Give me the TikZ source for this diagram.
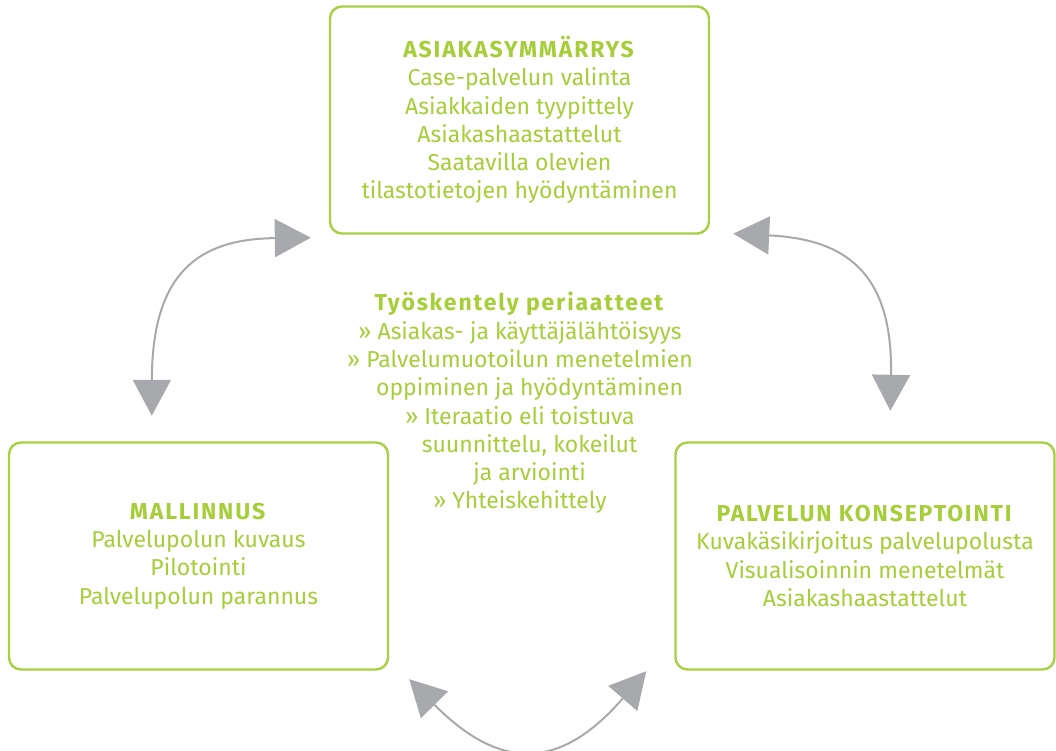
\documentclass[tikz,border=0pt]{standalone}
\usepackage{fontspec}
\setmainfont{Fira Sans}[BoldFeatures={LetterSpace=8}]
\usepackage{tikz}
\usetikzlibrary{arrows.meta}
\usepackage{xcolor}
\definecolor{leaf}{HTML}{A6CE39}
\definecolor{leafline}{HTML}{A9D045}
\definecolor{stone}{HTML}{A7A9AC}
\tikzset{
  every node/.style={font=\fontsize{23}{28.3}\selectfont,text=leaf},
  box/.style={draw=leafline,line width=2.4pt,rounded corners=12pt,fill=white,minimum width=379pt,minimum height=227pt,align=center,inner sep=0pt},
  arrow/.style={{Triangle[length=36pt,width=38pt]}-{Triangle[length=36pt,width=38pt]},line width=2pt,draw=stone},
  principles/.style={align=center,inner sep=0pt},
}
\newcommand{\cont}{\phantom{» }}

\begin{document}
\begin{tikzpicture}[x=1pt,y=1pt]
\useasboundingbox (0,0) rectangle (1056,751);

% phase boxes
\node[box] (insight) at (519.5,631)
{\textbf{ASIAKASYMMÄRRYS}\\Case-palvelun valinta\\Asiakkaiden tyypittely\\Asiakashaastattelut\\Saatavilla olevien\\tilastotietojen hyödyntäminen};

\node[box] (model) at (198.5,195)
{\textbf{MALLINNUS}\\Palvelupolun kuvaus\\Pilotointi\\Palvelupolun parannus};

\node[box] (concept) at (865,195)
{\textbf{PALVELUN KONSEPTOINTI}\\Kuvakäsikirjoitus palvelupolusta\\Visualisoinnin menetelmät\\Asiakashaastattelut};

% working principles
\node[principles] (ways) at (520,348)
{\textbf{Työskentely periaatteet}\\
» Asiakas- ja käyttäjälähtöisyys\\
» Palvelumuotoilun menetelmien\\
\cont oppiminen ja hyödyntäminen\\
» Iteraatio eli toistuva\\
\cont suunnittelu, kokeilut\\
\cont ja arviointi\\
» Yhteiskehittely};

% arrow ends
\coordinate (insightL) at ([shift={(-18,-3)}]insight.south west);
\coordinate (insightR) at ([shift={(23,1)}]insight.south east);
\coordinate (modelT) at ([shift={(144,25.5)}]model.north west);
\coordinate (modelB) at ([shift={(20,-8.5)}]model.south east);
\coordinate (conceptT) at ([shift={(216,30.5)}]concept.north west);
\coordinate (conceptB) at ([shift={(-28,-0.5)}]concept.south west);

% cycle arrows
\draw[arrow] (modelT) .. controls (152,480) and (200,512) .. (insightL);
\draw[arrow] (insightR) .. controls (844,512) and (893,480) .. (conceptT);
\draw[arrow] (modelB) .. controls (500,-20) and (560,-20) .. (conceptB);

\end{tikzpicture}
\end{document}
